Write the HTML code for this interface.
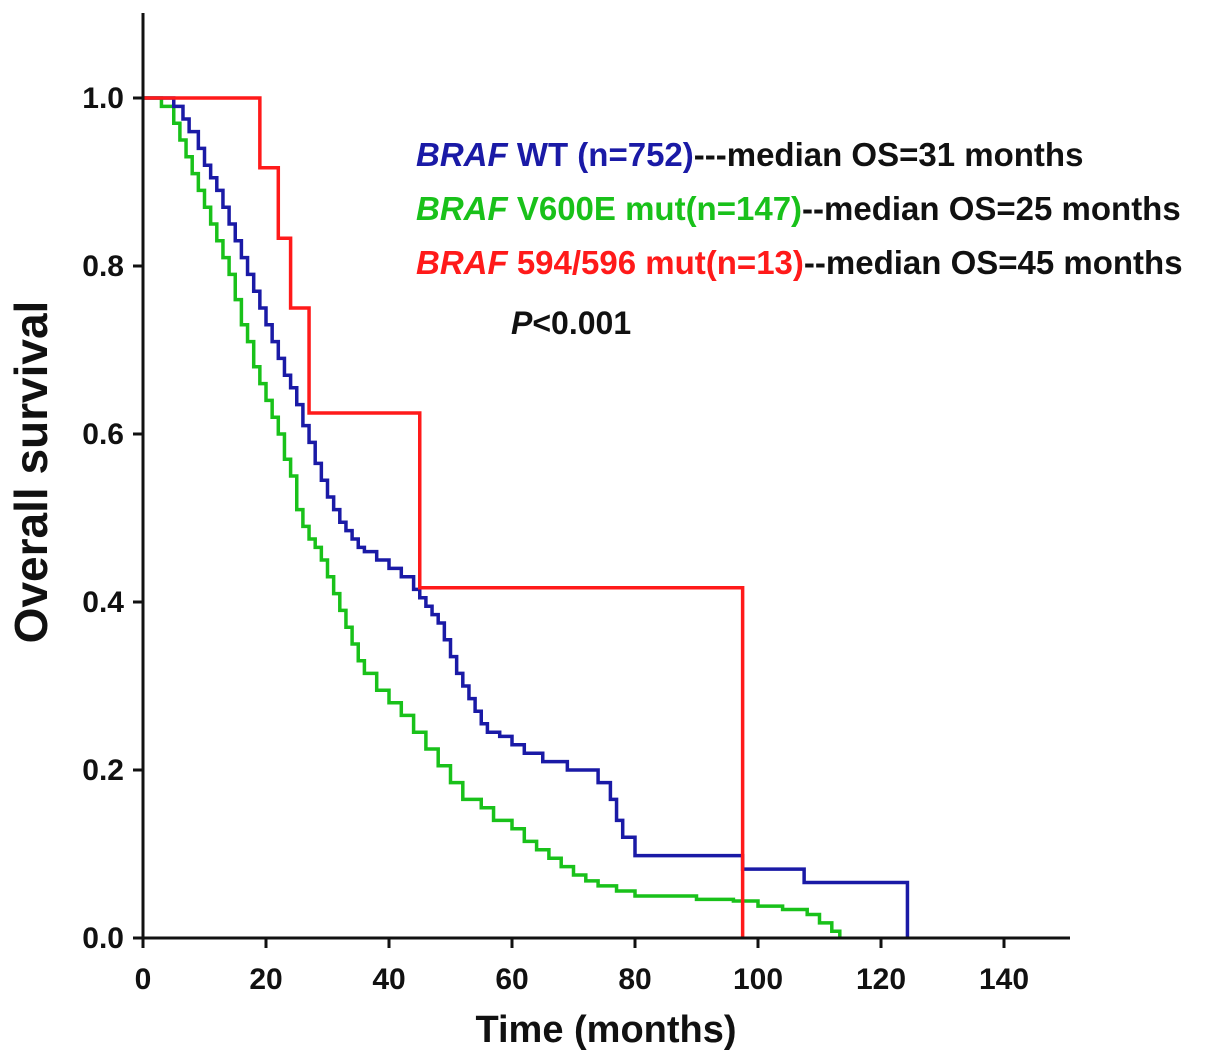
<!DOCTYPE html>
<html><head><meta charset="utf-8"><style>
html,body{margin:0;padding:0;background:#fff;}
svg{display:block;font-family:"Liberation Sans",Arial,sans-serif;font-weight:bold;}
</style></head><body>
<svg id="chart" width="1205" height="1061" viewBox="0 0 1205 1061" xmlns="http://www.w3.org/2000/svg"></svg>
<script>
const xTicks=[0,20,40,60,80,100,120,140];
const yTicks=[0.0,0.2,0.4,0.6,0.8,1.0];
const yTickLabels=["0.0","0.2","0.4","0.6","0.8","1.0"];
const wtTimes=[0,5,6.5,7.5,9,10,11,12,13,14,15,16,17,18,19,20,21,22,23,24,25,26,27,28,29,30,31,32,33,34,35,36,38,40,42,44,45,46,47,48,49,50,51,52,53,54,55,56,58,60,62,65,69,74,76,77,78,80,97.5,107.5,124.3];
const wtSurv=[1,0.99,0.975,0.96,0.94,0.92,0.905,0.89,0.87,0.85,0.83,0.81,0.79,0.77,0.75,0.73,0.71,0.69,0.67,0.655,0.635,0.61,0.59,0.565,0.545,0.525,0.51,0.495,0.485,0.475,0.465,0.46,0.45,0.44,0.43,0.415,0.405,0.395,0.385,0.375,0.355,0.335,0.315,0.30,0.285,0.27,0.255,0.245,0.24,0.23,0.22,0.21,0.2,0.185,0.165,0.14,0.12,0.098,0.082,0.066,0];
const v600Times=[0,3,5,6,7,8,9,10,11,12,13,14,15,16,17,18,19,20,21,22,23,24,25,26,27,28,29,30,31,32,33,34,35,36,38,40,42,44,46,48,50,52,55,57,60,62,64,66,68,70,72,74,77,80,90,96,100,104,108,110,112,113.3];
const v600Surv=[1,0.99,0.97,0.95,0.93,0.91,0.89,0.87,0.85,0.83,0.81,0.79,0.76,0.73,0.71,0.68,0.66,0.64,0.62,0.6,0.57,0.55,0.51,0.49,0.475,0.465,0.45,0.43,0.41,0.39,0.37,0.35,0.33,0.315,0.295,0.28,0.265,0.245,0.225,0.205,0.185,0.165,0.155,0.14,0.13,0.115,0.105,0.095,0.085,0.075,0.068,0.062,0.056,0.05,0.046,0.044,0.038,0.034,0.028,0.018,0.008,0];
const mutTimes=[0,19,22,24,27,45,97.5];
const mutSurv=[1,0.917,0.833,0.75,0.625,0.417,0];

const X0=143,PX=6.15,Y0=938,PY=840;
const sx=t=>X0+t*PX, sy=v=>Y0-v*PY;
const svg=document.getElementById('chart');
const NS='http://www.w3.org/2000/svg';
function mk(tag,attrs){const e=document.createElementNS(NS,tag);for(const k in attrs)e.setAttribute(k,attrs[k]);svg.appendChild(e);return e;}

function curve(times,surv,color,name){
  let d='M'+sx(times[0])+','+sy(surv[0]);
  for(let i=1;i<times.length;i++){d+=' H'+sx(times[i])+' V'+sy(surv[i]);}
  const p=mk('path',{d:d,fill:'none',stroke:color,'stroke-width':3.5});
  
  
}
curve(v600Times,v600Surv,'#19c11a','curve-v600e');
curve(wtTimes,wtSurv,'#1a1aa6','curve-wt');
curve(mutTimes,mutSurv,'#ff1a1a','curve-594-596');

const ax=mk('line',{x1:X0,y1:13,x2:X0,y2:Y0+1,stroke:'#111','stroke-width':3});


const bx=mk('line',{x1:X0-1,y1:Y0,x2:1070,y2:Y0,stroke:'#111','stroke-width':3});


xTicks.forEach(t=>{
  const l=mk('line',{x1:sx(t),y1:Y0,x2:sx(t),y2:Y0+10,stroke:'#111','stroke-width':3});
  
  
  const tx=mk('text',{x:sx(t),y:Y0+51,'text-anchor':'middle','font-size':30,fill:'#111'});
  tx.textContent=String(t);
  
  
});
yTicks.forEach((v,i)=>{
  const l=mk('line',{x1:X0-10,y1:sy(v),x2:X0,y2:sy(v),stroke:'#111','stroke-width':3});
  
  
  const tx=mk('text',{x:X0-19,y:sy(v)+10,'text-anchor':'end','font-size':30,fill:'#111'});
  tx.textContent=yTickLabels[i];
  
  
});
</script>
<svg style="position:absolute;left:0;top:0" width="1205" height="1061">
<text x="606" y="1042" text-anchor="middle" font-size="38" fill="#111">Time (months)</text>
<text transform="translate(47,472) rotate(-90)" text-anchor="middle" font-size="46" fill="#111">Overall survival</text>
<text x="416" y="166" font-size="33" fill="#1a1aa6"><tspan font-style="italic">BRAF</tspan> WT (n=752)<tspan fill="#111">---median OS=31 months</tspan></text>
<text x="416" y="220" font-size="33" fill="#19c11a"><tspan font-style="italic">BRAF</tspan> V600E mut(n=147)<tspan fill="#111">--median OS=25 months</tspan></text>
<text x="416" y="274" font-size="33" fill="#ff1a1a"><tspan font-style="italic">BRAF</tspan> 594/596 mut(n=13)<tspan fill="#111">--median OS=45 months</tspan></text>
<text x="511" y="334" font-size="32" fill="#111"><tspan font-style="italic">P</tspan>&lt;0.001</text>
</svg>
</body></html>
